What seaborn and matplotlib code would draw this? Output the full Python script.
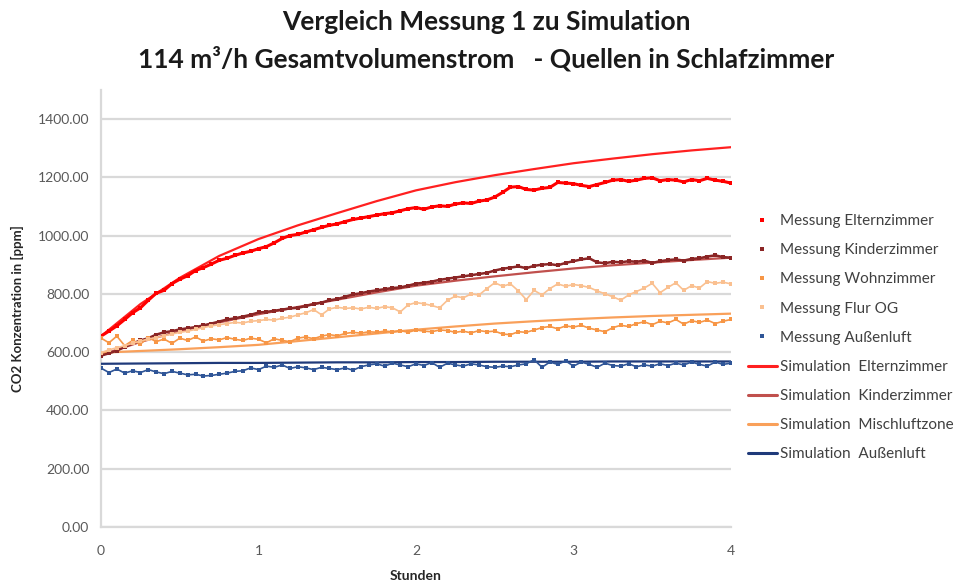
import numpy as np
import pandas as pd
import matplotlib
matplotlib.use("Agg")
import matplotlib.pyplot as plt
from matplotlib.lines import Line2D
import seaborn as sns

# ---------------- data ----------------
t_mess = [round(i * 0.05, 2) for i in range(81)]
t_sim = [round(i * 0.25, 2) for i in range(17)]

mess_eltern = [655, 672, 690, 712, 735, 752, 778, 802, 812, 835, 850, 862, 880, 890, 902, 915, 922, 932, 940, 946,
               955, 962, 975, 990, 1000, 1004, 1012, 1020, 1028, 1035, 1040, 1048, 1055, 1060, 1065, 1070, 1075, 1078, 1085, 1092,
               1096, 1090, 1098, 1102, 1100, 1108, 1112, 1110, 1118, 1122, 1132, 1148, 1166, 1168, 1158, 1156, 1162, 1165, 1182, 1180,
               1178, 1172, 1168, 1175, 1182, 1190, 1192, 1186, 1190, 1196, 1198, 1188, 1192, 1190, 1184, 1192, 1188, 1196, 1190, 1186,
               1180]
mess_kinder = [588, 596, 605, 618, 630, 640, 648, 660, 668, 672, 678, 682, 686, 692, 698, 705, 712, 716, 722, 728,
               736, 738, 742, 746, 750, 752, 758, 765, 770, 778, 782, 790, 798, 802, 808, 812, 816, 820, 822, 828,
               835, 838, 842, 848, 852, 856, 860, 864, 868, 872, 880, 886, 890, 894, 888, 896, 900, 902, 898, 906,
               912, 918, 922, 908, 905, 910, 908, 912, 910, 914, 906, 912, 916, 918, 914, 920, 922, 928, 932, 926,
               924]
mess_wohn = [648, 632, 655, 622, 640, 628, 650, 636, 645, 630, 648, 640, 652, 638, 646, 642, 650, 644, 640, 648,
             644, 632, 646, 640, 636, 648, 652, 646, 655, 660, 656, 664, 668, 665, 670, 668, 672, 670, 674, 668,
             676, 672, 670, 676, 674, 668, 672, 666, 674, 670, 672, 662, 660, 670, 668, 676, 684, 688, 680, 690,
             686, 692, 682, 676, 670, 684, 692, 688, 698, 704, 694, 706, 700, 712, 696, 708, 702, 710, 698, 706,
             712]
mess_flur = [598, 608, 615, 622, 630, 638, 645, 650, 656, 662, 668, 672, 678, 684, 690, 694, 698, 702, 700, 706,
             708, 712, 710, 716, 720, 728, 735, 746, 728, 748, 754, 750, 752, 748, 754, 750, 756, 752, 738, 762,
             770, 766, 760, 752, 778, 792, 786, 800, 796, 818, 838, 826, 834, 810, 780, 812, 796, 818, 834, 826,
             832, 828, 822, 810, 800, 790, 778, 796, 808, 820, 836, 804, 822, 838, 812, 828, 820, 842, 836, 840,
             834]
mess_aussen = [545, 530, 542, 528, 536, 530, 540, 532, 526, 534, 528, 522, 524, 518, 520, 524, 528, 534, 536, 546,
               540, 552, 548, 556, 544, 550, 546, 540, 548, 544, 540, 546, 538, 550, 556, 560, 552, 562, 556, 550,
               560, 554, 564, 548, 562, 556, 552, 560, 556, 550, 548, 552, 550, 556, 560, 574, 548, 566, 558, 570,
               552, 566, 558, 548, 562, 554, 552, 560, 550, 556, 552, 560, 554, 562, 556, 566, 558, 552, 566, 558,
               562]

sim_eltern = [655, 765, 855, 930, 988, 1035, 1077, 1118, 1155, 1183, 1207, 1228, 1248, 1264, 1279, 1292, 1303]
sim_kinder = [590, 635, 672, 702, 730, 755, 780, 805, 828, 845, 860, 874, 887, 898, 907, 916, 924]
sim_misch = [598, 604, 610, 617, 625, 638, 651, 664, 677, 688, 698, 706, 713, 719, 724, 728, 732]
sim_aussen = [560, 561, 562, 563, 563, 564, 565, 565, 566, 566, 567, 567, 567, 568, 568, 568, 568]

mess_labels = ["Messung Elternzimmer", "Messung Kinderzimmer", "Messung Wohnzimmer",
               "Messung Flur OG", "Messung Außenluft"]
sim_labels = ["Simulation  Elternzimmer", "Simulation  Kinderzimmer", "Simulation  Mischluftzone",
              "Simulation  Außenluft"]
y_ticks = [0, 200, 400, 600, 800, 1000, 1200, 1400]
x_ticks = [0, 1, 2, 3, 4]

# ---------------- style ----------------
sns.set_style("white")
plt.rcParams["font.family"] = ["Lato", "DejaVu Sans"]

mess_colors = ["#FF0000", "#8B2525", "#F79646", "#FAC090", "#2F5597"]
sim_colors = ["#FF2020", "#C0504D", "#F9A05A", "#1F3A7A"]

fig = plt.figure(figsize=(9.72, 5.83), dpi=100)
ax = fig.add_axes([0.104, 0.096, 0.648, 0.750])

mess_series = [mess_eltern, mess_kinder, mess_wohn, mess_flur, mess_aussen]
sim_series = [sim_eltern, sim_kinder, sim_misch, sim_aussen]

for vals, col in zip(sim_series, sim_colors):
    sns.lineplot(x=t_sim, y=vals, ax=ax, color=col, linewidth=1.6, zorder=3)

mess_lw = [2.2, 1.8, 1.2, 1.2, 1.2]
mess_ms = [3.0, 2.6, 2.4, 2.4, 2.4]
for vals, col, lw, ms in zip(mess_series, mess_colors, mess_lw, mess_ms):
    sns.lineplot(x=t_mess, y=vals, ax=ax, color=col, linewidth=lw, marker="s",
                 markersize=ms, markeredgewidth=0, zorder=4)

ax.set_xlim(0, 4)
ax.set_ylim(0, 1500)
ax.set_yticks(y_ticks)
ax.set_yticklabels([f"{v:.2f}" for v in y_ticks])
ax.set_xticks(x_ticks)
ax.set_xticklabels([str(v) for v in x_ticks])
ax.grid(axis="y", color="#D9D9D9", linewidth=1.6)
ax.set_axisbelow(True)
for s in ["top", "right"]:
    ax.spines[s].set_visible(False)
for s in ["left", "bottom"]:
    ax.spines[s].set_color("#D9D9D9")
    ax.spines[s].set_linewidth(1.6)
ax.tick_params(axis="both", colors="#D0D0D0", labelcolor="#595959", labelsize=10,
               length=5, width=1.2, direction="out")
ax.tick_params(axis="x", pad=8)

ax.set_xlabel("Stunden", fontsize=10, fontweight="bold", color="#262626", labelpad=9)
ax.set_ylabel("CO2 Konzentration in [ppm]", fontsize=9.5, fontweight="bold", color="#262626", labelpad=10)

fig.text(0.5, 0.962, "Vergleich Messung 1 zu Simulation", ha="center", va="center",
         fontsize=19, fontweight="bold", color="#1a1a1a")
fig.text(0.5, 0.900, "114 m³/h Gesamtvolumenstrom   - Quellen in Schlafzimmer", ha="center", va="center",
         fontsize=19, fontweight="bold", color="#1a1a1a")

handles = []
for col, lab in zip(mess_colors, mess_labels):
    handles.append(Line2D([], [], linestyle="none", marker="s", markersize=3.5,
                          markeredgewidth=0, color=col, label=lab))
for col, lab in zip(sim_colors, sim_labels):
    handles.append(Line2D([], [], color=col, linewidth=2.2, label=lab))
leg = fig.legend(handles=handles, loc="upper left", bbox_to_anchor=(0.763, 0.643),
                 frameon=False, fontsize=11, labelspacing=0.99, handlelength=1.9,
                 handletextpad=0.2, borderaxespad=0)
for txt in leg.get_texts():
    txt.set_color("#404040")

fig.savefig("out.png", dpi=100)
